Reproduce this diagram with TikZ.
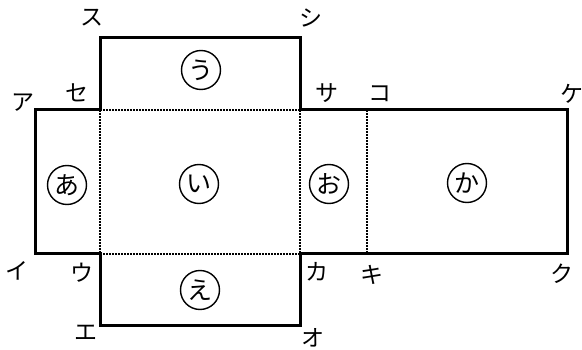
\documentclass[tikz,border=0pt]{standalone}
\usepackage{fontspec}
\newfontfamily\jpfont{Noto Sans CJK JP}
\begin{document}
\begin{tikzpicture}[x=1pt,y=-1pt,
  outline/.style={line width=3pt, line join=miter},
  foldline/.style={line width=2.4pt, dash pattern=on 2pt off 1pt},
  face/.style={circle, draw, line width=1.4pt, minimum size=39pt, inner sep=0pt, font=\jpfont\fontsize{25}{25}\selectfont},
  vlabel/.style={inner sep=0pt, font=\jpfont\fontsize{23}{23}\selectfont}]
\useasboundingbox (0,0) rectangle (582,350);
% vertices
\coordinate (A) at (35,110);
\coordinate (I) at (35,254);
\coordinate (Se) at (100,110);
\coordinate (Su) at (100,38);
\coordinate (Shi) at (300,38);
\coordinate (Sa) at (300,110);
\coordinate (Ko) at (367,110);
\coordinate (Ke) at (567,110);
\coordinate (Ku) at (567,254);
\coordinate (Ki) at (367,254);
\coordinate (Ka) at (300,254);
\coordinate (O) at (300,326);
\coordinate (E) at (100,326);
\coordinate (U) at (100,254);
% fold lines
\draw[foldline] (Se) -- (U);
\draw[foldline] (Sa) -- (Ka);
\draw[foldline] (Ko) -- (Ki);
\draw[foldline] (Se) -- (Sa);
\draw[foldline] (U) -- (Ka);
% outline
\draw[outline] (A) -- (Se) -- (Su) -- (Shi) -- (Sa) -- (Ke) -- (Ku) -- (Ka) -- (O) -- (E) -- (U) -- (I) -- cycle;
% faces
\node[face] (fa) at (67,185) {あ};
\node[face] (fi) at (199,184) {い};
\node[face] (fu) at (201,70) {う};
\node[face] (fe) at (200,290) {え};
\node[face] (fo) at (329,184) {お};
\node[face] (fk) at (467,183) {か};
% vertex labels
\node[vlabel] (lA) at (23,103) {ア};
\node[vlabel] (lSe) at (77,93) {セ};
\node[vlabel] (lSu) at (92,18) {ス};
\node[vlabel] (lShi) at (311,18) {シ};
\node[vlabel] (lSa) at (327,93) {サ};
\node[vlabel] (lKo) at (380,94) {コ};
\node[vlabel] (lKe) at (572,94) {ケ};
\node[vlabel] (lI) at (17,271) {イ};
\node[vlabel] (lU) at (82,273) {ウ};
\node[vlabel] (lE) at (86,333) {エ};
\node[vlabel] (lKa) at (317,272) {カ};
\node[vlabel] (lKi) at (372,275) {キ};
\node[vlabel] (lKu) at (562,274) {ク};
\node[vlabel] (lO) at (313,338) {オ};
\end{tikzpicture}
\end{document}
